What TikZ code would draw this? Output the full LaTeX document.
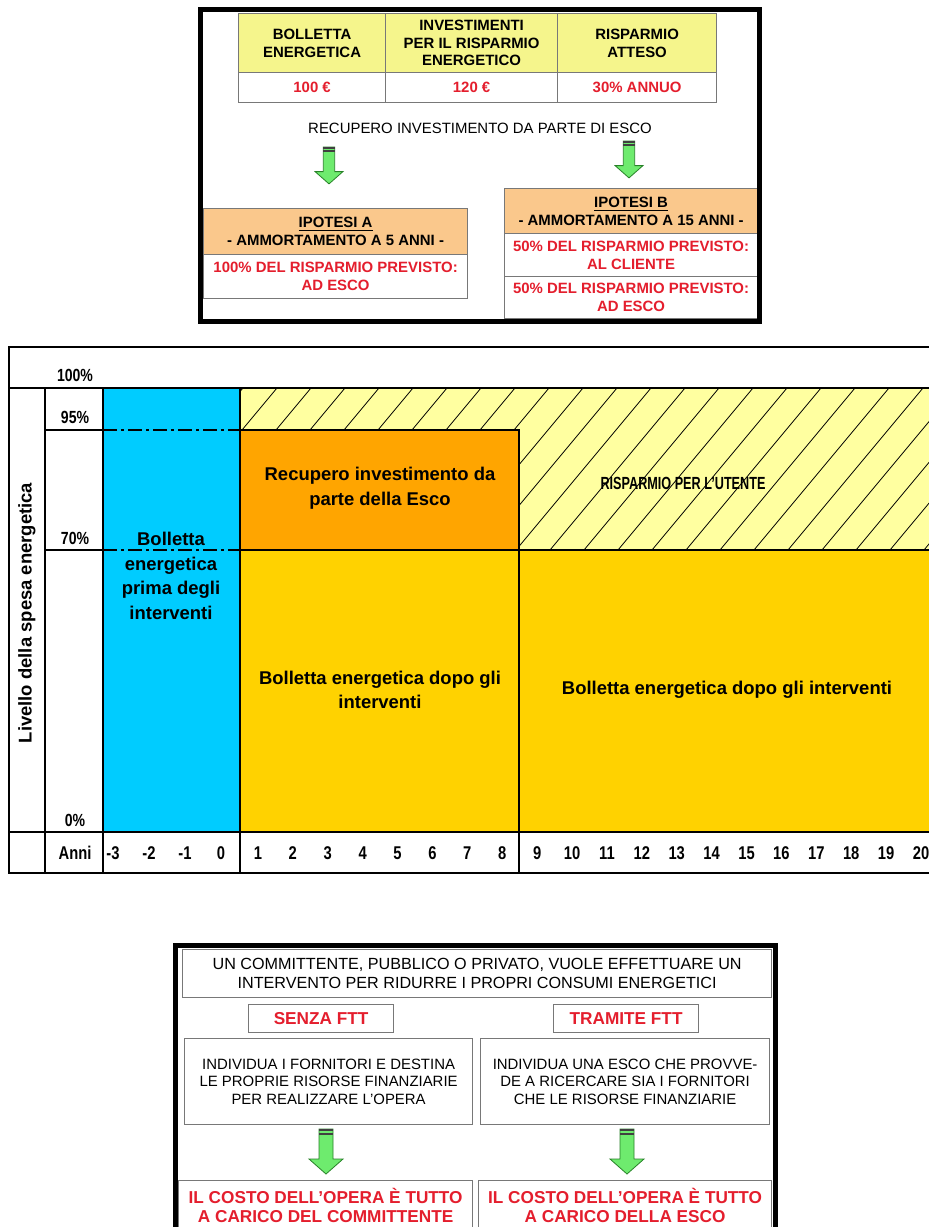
\documentclass[tikz,border=0pt]{standalone}
\usepackage{fontspec}
\setmainfont{Liberation Sans}
\newfontfamily\narrowfont{Liberation Sans}[FakeStretch=0.8]
\usetikzlibrary{positioning}

\newlength{\pxu}
\setlength{\pxu}{0.02cm}
\definecolor{tabyellow}{RGB}{245,245,140}
\definecolor{ipoorange}{RGB}{250,200,140}
\definecolor{txtred}{RGB}{228,30,45}
\definecolor{cellgray}{RGB}{120,120,120}
\definecolor{arrowgreen}{RGB}{110,235,110}
\definecolor{arrowedge}{RGB}{40,130,40}
\definecolor{barblue}{RGB}{0,204,255}
\definecolor{barorange}{RGB}{255,165,0}
\definecolor{bargold}{RGB}{255,210,0}
\definecolor{hatchyellow}{RGB}{255,255,160}

\begin{document}
\begin{tikzpicture}[x=0.02cm,y=-0.02cm]
\tikzset{
  box/.style={draw=cellgray,line width=1.2\pxu,anchor=north west,inner sep=0pt,align=center,
    font=\fontsize{8.5}{10}\selectfont},
  headcell/.style={box,fill=tabyellow,font=\fontsize{8.5}{10}\selectfont\bfseries},
  valcell/.style={box,text=txtred,font=\fontsize{8.5}{10}\selectfont\bfseries},
  ipohead/.style={box,fill=ipoorange,font=\fontsize{8.5}{10}\selectfont\bfseries},
  iporow/.style={box,text=txtred,font=\fontsize{8.5}{10}\selectfont\bfseries},
  stepbox/.style={box,font=\fontsize{9.2}{10.5}\selectfont},
  redbox/.style={box,text=txtred,font=\fontsize{9.8}{11}\selectfont\bfseries},
  frame/.style={draw=black,line width=5\pxu},
  thickrule/.style={draw=black,line width=2.5\pxu},
  thinrule/.style={draw=black,line width=1.5\pxu},
  dashdot/.style={thinrule,dash pattern=on 14\pxu off 4\pxu on 3\pxu off 4\pxu},
  hatch/.style={draw=black,line width=0.8\pxu},
  chartlbl/.style={font=\fontsize{10.5}{14}\selectfont\bfseries,align=center,inner sep=0pt},
  ticklbl/.style={font=\narrowfont\fontsize{10}{10}\selectfont\bfseries,inner sep=0pt},
  yearlbl/.style={font=\narrowfont\fontsize{10.5}{10}\selectfont\bfseries,inner sep=0pt},
  dnarrow/.pic={
    \filldraw[fill=arrowgreen,draw=arrowedge,line width=0.8\pxu]
      (-7,0) -- (7,0) -- (7,30) -- (17,30) -- (0,45) -- (-17,30) -- (-7,30) -- cycle;
    \fill[black!75] (-7,0) rectangle (7,2);
    \fill[black!75] (-7,3.5) rectangle (7,5.5);
  }
}
\path[use as bounding box,fill=white] (0,0) rectangle (929,1227);

% table and hypotheses
\node[headcell,minimum width=147\pxu,minimum height=59\pxu] (n_bill) at (238,13) {BOLLETTA\\ENERGETICA};
\node[headcell,minimum width=172\pxu,minimum height=59\pxu] (n_invest) at (385,13) {INVESTIMENTI\\PER IL RISPARMIO\\ENERGETICO};
\node[headcell,minimum width=159\pxu,minimum height=59\pxu] (n_saving) at (557,13) {RISPARMIO\\ATTESO};
\node[valcell,minimum width=147\pxu,minimum height=30\pxu] (n_billval) at (238,72) {100 €};
\node[valcell,minimum width=172\pxu,minimum height=30\pxu] (n_investval) at (385,72) {120 €};
\node[valcell,minimum width=159\pxu,minimum height=30\pxu] (n_savingval) at (557,72) {30\% ANNUO};
\node[font=\fontsize{8.5}{10}\selectfont,inner sep=0pt] (n_recover) at (480,128) {RECUPERO INVESTIMENTO DA PARTE DI ESCO};
\node[ipohead,minimum width=264\pxu,minimum height=46\pxu] (n_hypa) at (203,208) {\underline{IPOTESI A}\\- AMMORTAMENTO A 5 ANNI -};
\node[iporow,minimum width=264\pxu,minimum height=44\pxu] (n_hypaesco) at (203,254) {100\% DEL RISPARMIO PREVISTO:\\AD ESCO};
\node[ipohead,minimum width=253\pxu,minimum height=45\pxu] (n_hypb) at (504,188) {\underline{IPOTESI B}\\- AMMORTAMENTO A 15 ANNI -};
\node[iporow,minimum width=253\pxu,minimum height=43\pxu] (n_hypbclient) at (504,233) {50\% DEL RISPARMIO PREVISTO:\\AL CLIENTE};
\node[iporow,minimum width=253\pxu,minimum height=42\pxu] (n_hypbesco) at (504,276) {50\% DEL RISPARMIO PREVISTO:\\AD ESCO};
\pic[scale=0.82] at (329,147) {dnarrow};
\pic[scale=0.82] at (629,141) {dnarrow};
\draw[frame] (200.5,9.5) rectangle (759.5,321.5);

% bar chart
\fill[barblue] (103,388) rectangle (240,832);
\fill[hatchyellow] (240,388) rectangle (935,550);
\begin{scope}
  \clip (240,388) rectangle (935,550);
  \foreach \k in {0,...,24}
    \draw[hatch] (108+\k*34,550) -- ++(135,-162);
\end{scope}
\fill[bargold] (240,550) rectangle (935,832);
\draw[thickrule,fill=barorange] (240,430) rectangle (519,550);
\draw[thinrule] (9,388) -- (103,388);
\draw[thinrule] (45,388) -- (45,873);
\draw[thinrule] (45,430) -- (103,430);
\draw[thinrule] (45,550) -- (103,550);
\draw[thinrule] (103,832) -- (103,873);
\draw[thinrule] (240,832) -- (240,873);
\draw[thinrule] (519,550) -- (519,873);
\draw[thinrule] (519,550) -- (935,550);
\draw[dashdot] (103,430) -- (240,430);
\draw[dashdot] (103,550) -- (240,550);
\draw[thickrule] (103,388) rectangle (240,832);
\draw[thickrule] (103,388) -- (935,388);
\draw[thickrule] (9,832) -- (935,832);
\draw[thickrule] (935,347) -- (9,347) -- (9,873) -- (935,873);

\node[font=\fontsize{10.5}{12}\selectfont\bfseries,rotate=90,inner sep=0pt] (n_ylabel) at (27,613) {Livello della spesa energetica};
\node[ticklbl] (n_p100) at (75,375) {100\%};
\node[ticklbl] (n_p95) at (75,417) {95\%};
\node[ticklbl] (n_p70) at (75,538) {70\%};
\node[ticklbl] (n_p0) at (75,820) {0\%};
\node[yearlbl] (n_years) at (75,853) {Anni};
\foreach \n in {-3,...,0}
  \node[yearlbl] (n_yr\n) at (221+36*\n,853) {\n};
\foreach \n in {1,...,20}
  \node[yearlbl] (n_yr\n) at (223+34.9*\n,853) {\n};

\node[chartlbl] (n_before) at (171,576) {Bolletta\\energetica\\prima degli\\interventi};
\node[chartlbl] (n_payback) at (380,488) {Recupero investimento da\\parte della Esco};
\node[chartlbl,font=\fontsize{10}{12}\selectfont\bfseries] (n_userprofit) at (683,483) {\scalebox{0.72}[1]{RISPARMIO PER L'UTENTE}};
\node[chartlbl] (n_afterl) at (380,690) {Bolletta energetica dopo gli\\interventi};
\node[chartlbl] (n_afterr) at (727,690) {Bolletta energetica dopo gli interventi};

% with and without third-party financing
\node[stepbox,minimum width=589\pxu,minimum height=48\pxu] (n_client) at (182,949) {UN COMMITTENTE, PUBBLICO O PRIVATO, VUOLE EFFETTUARE UN\\INTERVENTO PER RIDURRE I PROPRI CONSUMI ENERGETICI};
\node[redbox,minimum width=145\pxu,minimum height=28\pxu] (n_noftt) at (248,1004) {SENZA FTT};
\node[redbox,minimum width=145\pxu,minimum height=28\pxu] (n_ftt) at (553,1004) {TRAMITE FTT};
\node[stepbox,font=\fontsize{8.5}{10}\selectfont,minimum width=288\pxu,minimum height=86\pxu] (n_ownfunds) at (184,1038) {INDIVIDUA I FORNITORI E DESTINA\\LE PROPRIE RISORSE FINANZIARIE\\PER REALIZZARE L’OPERA};
\node[stepbox,font=\fontsize{8.5}{10}\selectfont,minimum width=289\pxu,minimum height=86\pxu] (n_escofunds) at (480,1038) {INDIVIDUA UNA ESCO CHE PROVVE-\\DE A RICERCARE SIA I FORNITORI\\CHE LE RISORSE FINANZIARIE};
\pic at (326,1129) {dnarrow};
\pic at (627,1129) {dnarrow};
\node[redbox,minimum width=294\pxu,minimum height=50\pxu] (n_costclient) at (178,1180) {IL COSTO DELL’OPERA È TUTTO\\A CARICO DEL COMMITTENTE};
\node[redbox,minimum width=293\pxu,minimum height=50\pxu] (n_costesco) at (478,1180) {IL COSTO DELL’OPERA È TUTTO\\A CARICO DELLA ESCO};
\draw[frame] (175.5,1240) -- (175.5,945.5) -- (775.5,945.5) -- (775.5,1240);
\end{tikzpicture}
\end{document}
